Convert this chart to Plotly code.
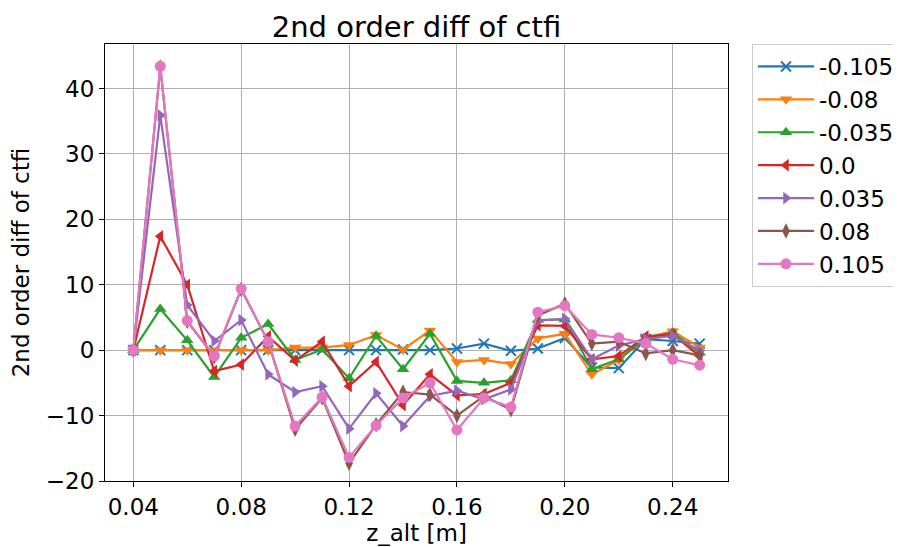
import plotly.graph_objects as go

z_alt = [0.04, 0.05, 0.06, 0.07, 0.08, 0.09, 0.10, 0.11, 0.12, 0.13, 0.14,
         0.15, 0.16, 0.17, 0.18, 0.19, 0.20, 0.21, 0.22, 0.23, 0.24, 0.25]

labels = ["-0.105", "-0.08", "-0.035", "0.0", "0.035", "0.08", "0.105"]

s_m0105 = [0, 0, 0, 0, 0, 0, 0, 0, 0, 0, 0.1,
           0, 0.25, 1.0, -0.1, 0.25, 1.85, -2.65, -2.75, 1.7, 1.4, 1.0]
s_m008 = [0, 0, 0, 0, 0, 0, 0.4, 0.4, 0.8, 2.3, 0.1,
          3.0, -1.8, -1.5, -2.1, 1.8, 2.5, -3.7, -1.5, 1.9, 2.9, 0.4]
s_m0035 = [0, 6.3, 1.5, -4.1, 1.9, 4.0, -1.5, 0.1, -4.3, 2.2, -2.9,
           2.5, -4.7, -5.0, -4.6, 4.6, 4.7, -2.9, -1.4, 1.8, 2.7, -0.4]
s_0 = [0, 17.4, 10.0, -3.2, -2.2, 2.1, -1.6, 1.3, -5.5, -1.8, -8.4,
       -3.7, -6.9, -6.7, -5.0, 3.8, 3.7, -1.4, -0.9, 2.1, 2.4, -0.9]
s_0035 = [0, 35.9, 6.9, 1.4, 4.6, -3.7, -6.4, -5.5, -12.0, -6.6, -11.6,
          -7.0, -6.2, -7.5, -6.0, 4.5, 4.8, -1.4, 0.7, 1.7, 2.2, -0.1]
s_008 = [0, 43.3, 4.4, -1.0, 9.3, 1.3, -12.1, -7.3, -17.3, -11.4, -6.4,
         -6.8, -10.0, -7.0, -9.1, 5.3, 7.1, 1.0, 1.3, -0.5, 0.0, -0.8]
s_0105 = [0, 43.4, 4.5, -0.9, 9.4, 1.3, -11.6, -7.2, -16.4, -11.5, -7.3,
          -5.0, -12.2, -7.3, -8.7, 5.8, 6.8, 2.4, 1.9, 1.0, -1.4, -2.3]

series = [s_m0105, s_m008, s_m0035, s_0, s_0035, s_008, s_0105]
colors = ["#1f77b4", "#ff7f0e", "#2ca02c", "#d62728", "#9467bd", "#8c564b", "#e377c2"]
symbols = ["x-thin", "triangle-down", "triangle-up", "triangle-left",
           "triangle-right", "diamond-tall", "circle"]

x_ticks = [0.04, 0.08, 0.12, 0.16, 0.20, 0.24]
x_ticktext = ["0.04", "0.08", "0.12", "0.16", "0.20", "0.24"]
y_ticks = [-20, -10, 0, 10, 20, 30, 40]

FONT = "DejaVu Sans"
TICK = 23

fig = go.Figure()
for i, (lab, ys, col, sym) in enumerate(zip(labels, series, colors, symbols)):
    if sym == "x-thin":
        marker = dict(symbol=sym, size=10, color=col, line=dict(width=2, color=col))
    else:
        marker = dict(symbol=sym, size=11, color=col, line=dict(width=0))
    fig.add_trace(go.Scatter(
        x=z_alt, y=ys, name=lab, mode="lines+markers",
        line=dict(color=col, width=2.2), marker=marker,
        legendgroup=f"g{i}",
    ))

fig.update_layout(
    width=893, height=539,
    margin=dict(l=97, r=173, t=36, b=66, autoexpand=False),
    paper_bgcolor="white", plot_bgcolor="white",
    font=dict(family=FONT, size=TICK, color="black"),
    title=dict(text="2nd order diff of ctfi", x=0.5, xref="paper", xanchor="center",
               y=1, yref="paper", yanchor="bottom", pad=dict(b=7),
               font=dict(family=FONT, size=29, color="black")),
    legend=dict(x=1.0385, y=1.0, xanchor="left", yanchor="top",
                bordercolor="#cccccc", borderwidth=1, bgcolor="rgba(255,255,255,0.8)",
                font=dict(family=FONT, size=TICK, color="black"),
                tracegroupgap=0, itemwidth=56),
    showlegend=True,
)
fig.update_xaxes(
    range=[0.0295, 0.2605], tickvals=x_ticks, ticktext=x_ticktext,
    showgrid=True, gridcolor="#b0b0b0", gridwidth=1, zeroline=False,
    showline=True, linecolor="black", linewidth=1, mirror=True,
    ticks="outside", ticklen=5, tickcolor="black",
    title=dict(text="z_alt [m]", font=dict(family=FONT, size=TICK, color="black"), standoff=6),
)
fig.update_yaxes(
    range=[-20, 46.8], tickvals=y_ticks,
    showgrid=True, gridcolor="#b0b0b0", gridwidth=1, zeroline=False,
    showline=True, linecolor="black", linewidth=1, mirror=True,
    ticks="outside", ticklen=5, tickcolor="black",
    title=dict(text="2nd order diff of ctfi", font=dict(family=FONT, size=TICK, color="black"), standoff=10),
)

fig.write_html("out.html")
